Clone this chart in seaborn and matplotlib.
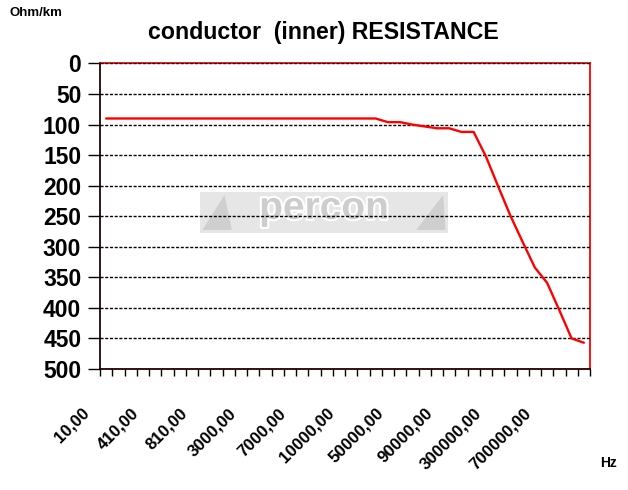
import matplotlib
matplotlib.use("Agg")
import matplotlib.pyplot as plt
import matplotlib.transforms as mtransforms
import matplotlib.patheffects as pe
from matplotlib.patches import Rectangle, Polygon
import numpy as np
import pandas as pd
import seaborn as sns

# ---------------- data ----------------
frequencies = [10, 110, 210, 310, 410, 510, 610, 710, 810, 910,
               1000, 2000, 3000, 4000, 5000, 6000, 7000, 8000, 9000, 9500,
               10000, 20000, 30000, 40000, 50000, 60000, 70000, 80000, 90000, 100000,
               150000, 200000, 300000, 400000, 500000, 600000, 700000, 800000, 900000, 1000000]
resistance = [90, 90, 90, 90, 90, 90, 90, 90, 90, 90,
              90, 90, 90, 90, 90, 90, 90, 90, 90, 90,
              90, 90, 90, 96, 96, 100, 103, 106, 106, 112,
              112, 152, 201, 249, 292, 334, 359, 404, 450, 457]
shown_labels = ["10,00", "410,00", "810,00", "3000,00", "7000,00", "10000,00",
                "50000,00", "90000,00", "300000,00", "700000,00"]
y_ticks = [0, 50, 100, 150, 200, 250, 300, 350, 400, 450, 500]

sns.set_style("white")
plt.rcParams["font.family"] = ["Liberation Sans", "DejaVu Sans"]
plt.rcParams["text.color"] = "black"
plt.rcParams["xtick.color"] = "black"
plt.rcParams["ytick.color"] = "black"

fig = plt.figure(figsize=(6.28, 4.90), dpi=100)
ax = fig.add_axes([100 / 628, 1 - 369 / 490, 490 / 628, (369 - 63.5) / 490])

df = pd.DataFrame({"freq": [f"{f},00" for f in frequencies], "R": resistance})
sns.lineplot(data=df, x="freq", y="R", sort=False, color="#ff0000", lw=1.7, ax=ax, zorder=4)
ax.set_xlabel("")
ax.set_ylabel("")

n = len(frequencies)
ax.set_xlim(-0.5, n - 0.5)
ax.set_ylim(500, 0)

# y axis
ax.set_yticks(y_ticks)
ax.set_yticklabels([str(v) for v in y_ticks], fontsize=16.5, fontweight="bold")
ax.tick_params(axis="y", direction="out", length=8.5, width=1, pad=5, color="black", left=True)

# x axis: tick marks at category boundaries, labels every 4th category
ax.set_xticks(np.arange(-0.5, n, 1.0))
ax.set_xticklabels([""] * len(np.arange(-0.5, n, 1.0)))
ax.tick_params(axis="x", which="major", direction="out", length=5, width=1, color="black", bottom=True)
label_pos = [frequencies.index(int(s.split(",")[0])) for s in shown_labels]
ax.set_xticks(label_pos, minor=True)
ax.set_xticklabels(shown_labels, minor=True)
ax.tick_params(axis="x", which="minor", length=0, pad=30)
offset = mtransforms.ScaledTranslation(-19 / 100, 0, fig.dpi_scale_trans)
for lab in ax.get_xticklabels(minor=True):
    lab.set_rotation(45)
    lab.set_rotation_mode("anchor")
    lab.set_ha("right")
    lab.set_va("center")
    lab.set_fontsize(12.2)
    lab.set_fontweight("bold")
    lab.set_transform(lab.get_transform() + offset)

# grid
ax.yaxis.grid(True, color="black", linestyle=(0, (2.2, 1.2)), linewidth=1.0, zorder=3)
ax.xaxis.grid(False)
ax.set_axisbelow(False)

# spines
for s in ["top", "right"]:
    ax.spines[s].set_color("#ff0000")
    ax.spines[s].set_linewidth(1.3)
for s in ["left", "bottom"]:
    ax.spines[s].set_color("#2a0000")
    ax.spines[s].set_linewidth(1.3)

# watermark
x0, x1 = (200 - 100) / 490, (448 - 100) / 490
y0, y1 = 1 - (233 - 63.5) / 305.5, 1 - (192 - 63.5) / 305.5
ax.add_patch(Rectangle((x0, y0), x1 - x0, y1 - y0, transform=ax.transAxes,
                       facecolor="#e6e6e6", edgecolor="none", zorder=1))
ax.add_patch(Polygon([(x0 + 0.005, y0 + 0.01), (x0 + 0.05, y1 - 0.01), (x0 + 0.065, y0 + 0.01)],
                     closed=True, transform=ax.transAxes, facecolor="#cfcfcf", edgecolor="none", zorder=1.5))
ax.add_patch(Polygon([(x1 - 0.065, y0 + 0.01), (x1 - 0.01, y1 - 0.01), (x1 - 0.005, y0 + 0.01)],
                     closed=True, transform=ax.transAxes, facecolor="#cfcfcf", edgecolor="none", zorder=1.5))
ax.text((x0 + x1) / 2, (y0 + y1) / 2 + 0.012, "percon", transform=ax.transAxes,
        ha="center", va="center", fontsize=28, fontweight="bold", color="#cdcdcd", zorder=2,
        path_effects=[pe.withStroke(linewidth=3, foreground="white")])

# texts
fig.text(323 / 628, 1 - 33 / 490, "conductor  (inner) RESISTANCE", ha="center", va="center",
         fontsize=16.7, fontweight="bold")
fig.text(10 / 628, 1 - 13 / 490, "Ohm/km", ha="left", va="center", fontsize=9.5, fontweight="bold")
fig.text(600 / 628, 1 - 463 / 490, "Hz", ha="left", va="center", fontsize=10, fontweight="bold")

fig.savefig("out.png", dpi=100)
